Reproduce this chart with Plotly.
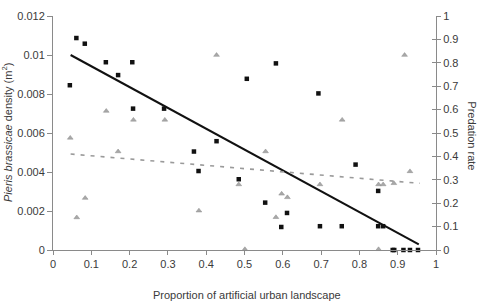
import plotly.graph_objects as go

# Black squares: Pieris brassicae density (left axis)
dens_x = [0.044, 0.061, 0.083, 0.138, 0.170, 0.207, 0.209, 0.290, 0.368, 0.380,
          0.427, 0.485, 0.506, 0.554, 0.582, 0.596, 0.611, 0.693, 0.697, 0.754,
          0.790, 0.849, 0.849, 0.862, 0.887, 0.891, 0.915, 0.932, 0.953]
dens_y = [0.00845, 0.01087, 0.01058, 0.00963, 0.00897, 0.00963, 0.00725, 0.00725, 0.00505, 0.00405,
          0.00558, 0.00363, 0.00878, 0.00243, 0.00957, 0.00118, 0.00190, 0.00803, 0.00122, 0.00122,
          0.00438, 0.00303, 0.00122, 0.00122, 0.0, 0.0, 0.0, 0.0, 0.0]

# Grey triangles: predation rate (right axis)
pred_x = [0.045, 0.062, 0.084, 0.139, 0.170, 0.210, 0.292, 0.381, 0.427, 0.485,
          0.501, 0.555, 0.582, 0.597, 0.612, 0.697, 0.755, 0.850, 0.850, 0.862,
          0.890, 0.918, 0.932]
pred_y = [0.479, 0.139, 0.222, 0.594, 0.421, 0.556, 0.556, 0.168, 0.833, 0.280,
          0.003, 0.421, 0.140, 0.240, 0.225, 0.280, 0.556, 0.280, 0.003, 0.280,
          0.285, 0.833, 0.336]

# Trend lines (end points)
dens_trend_x = [0.046, 0.955]
dens_trend_y = [0.0100, 0.000285]
pred_trend_x = [0.046, 0.958]
pred_trend_y = [0.410, 0.285]

x_ticks = [0, 0.1, 0.2, 0.3, 0.4, 0.5, 0.6, 0.7, 0.8, 0.9, 1]
y_ticks = [0, 0.002, 0.004, 0.006, 0.008, 0.01, 0.012]
y2_ticks = [0, 0.1, 0.2, 0.3, 0.4, 0.5, 0.6, 0.7, 0.8, 0.9, 1]

FONT = "Liberation Sans, Arial, sans-serif"
AX = "#8a8a8a"
TXT = "#3a3a3a"

fig = go.Figure()
fig.add_trace(go.Scatter(x=pred_trend_x, y=pred_trend_y, mode="lines", yaxis="y2",
                         line=dict(color="#9a9a9a", width=1.6, dash="4px,6px"), showlegend=False))
fig.add_trace(go.Scatter(x=pred_x, y=pred_y, mode="markers", yaxis="y2",
                         marker=dict(symbol="triangle-up", size=5, color="#a8a8a8",
                                     line=dict(color="#8c8c8c", width=0.5)), showlegend=False,
                         cliponaxis=False))
fig.add_trace(go.Scatter(x=dens_trend_x, y=dens_trend_y, mode="lines",
                         line=dict(color="#111111", width=2), showlegend=False))
fig.add_trace(go.Scatter(x=dens_x, y=dens_y, mode="markers",
                         marker=dict(symbol="square", size=4.5, color="#111111"), showlegend=False,
                         cliponaxis=False))

fig.update_layout(
    width=494, height=304,
    margin=dict(l=53, r=58, t=10, b=54),
    paper_bgcolor="white", plot_bgcolor="white",
    font=dict(family=FONT, size=11, color=TXT),
    xaxis=dict(range=[0, 1], tickvals=x_ticks, ticktext=[f"{v:g}" for v in x_ticks],
               showgrid=False, zeroline=False, showline=True, linecolor=AX, linewidth=1,
               ticks="outside", ticklen=4, tickcolor=AX, tickfont=dict(size=11, color=TXT)),
    yaxis=dict(range=[0, 0.012], tickvals=y_ticks, ticktext=[f"{v:g}" for v in y_ticks],
               showgrid=False, zeroline=False, showline=True, linecolor=AX, linewidth=1,
               ticks="outside", ticklen=5, tickcolor=AX, tickfont=dict(size=11, color=TXT)),
    yaxis2=dict(range=[0, 1], tickvals=y2_ticks, ticktext=[f"{v:g}" for v in y2_ticks],
                overlaying="y", side="right", anchor="x",
                showgrid=False, zeroline=False, showline=True, linecolor=AX, linewidth=1,
                ticks="outside", ticklen=4, tickcolor=AX, tickfont=dict(size=11, color=TXT)),
    yaxis3=dict(range=[0, 1], tickvals=y2_ticks, overlaying="y", side="right", anchor="x",
                showgrid=False, zeroline=False, showline=False, showticklabels=False,
                ticks="inside", ticklen=4, tickcolor=AX),
    annotations=[
        dict(text="<i>Pieris brassicae</i> density (m<sup>2</sup>)", xref="paper", yref="paper",
             x=(7 - 53) / 383, y=0.5, textangle=-90, showarrow=False,
             xanchor="center", yanchor="middle", font=dict(size=11, color=TXT)),
        dict(text="Predation rate", xref="paper", yref="paper",
             x=(472 - 53) / 383, y=0.49, textangle=90, showarrow=False,
             xanchor="center", yanchor="middle", font=dict(size=11, color=TXT)),
        dict(text="Proportion of artificial urban landscape", xref="paper", yref="paper",
             x=(247 - 53) / 383, y=(250 - 296) / 240, showarrow=False,
             xanchor="center", yanchor="middle", font=dict(size=11, color=TXT)),
    ],
)
# dummy trace to activate yaxis3
fig.add_trace(go.Scatter(x=[None], y=[None], yaxis="y3", showlegend=False, hoverinfo="skip"))

fig.write_html("out.html")
